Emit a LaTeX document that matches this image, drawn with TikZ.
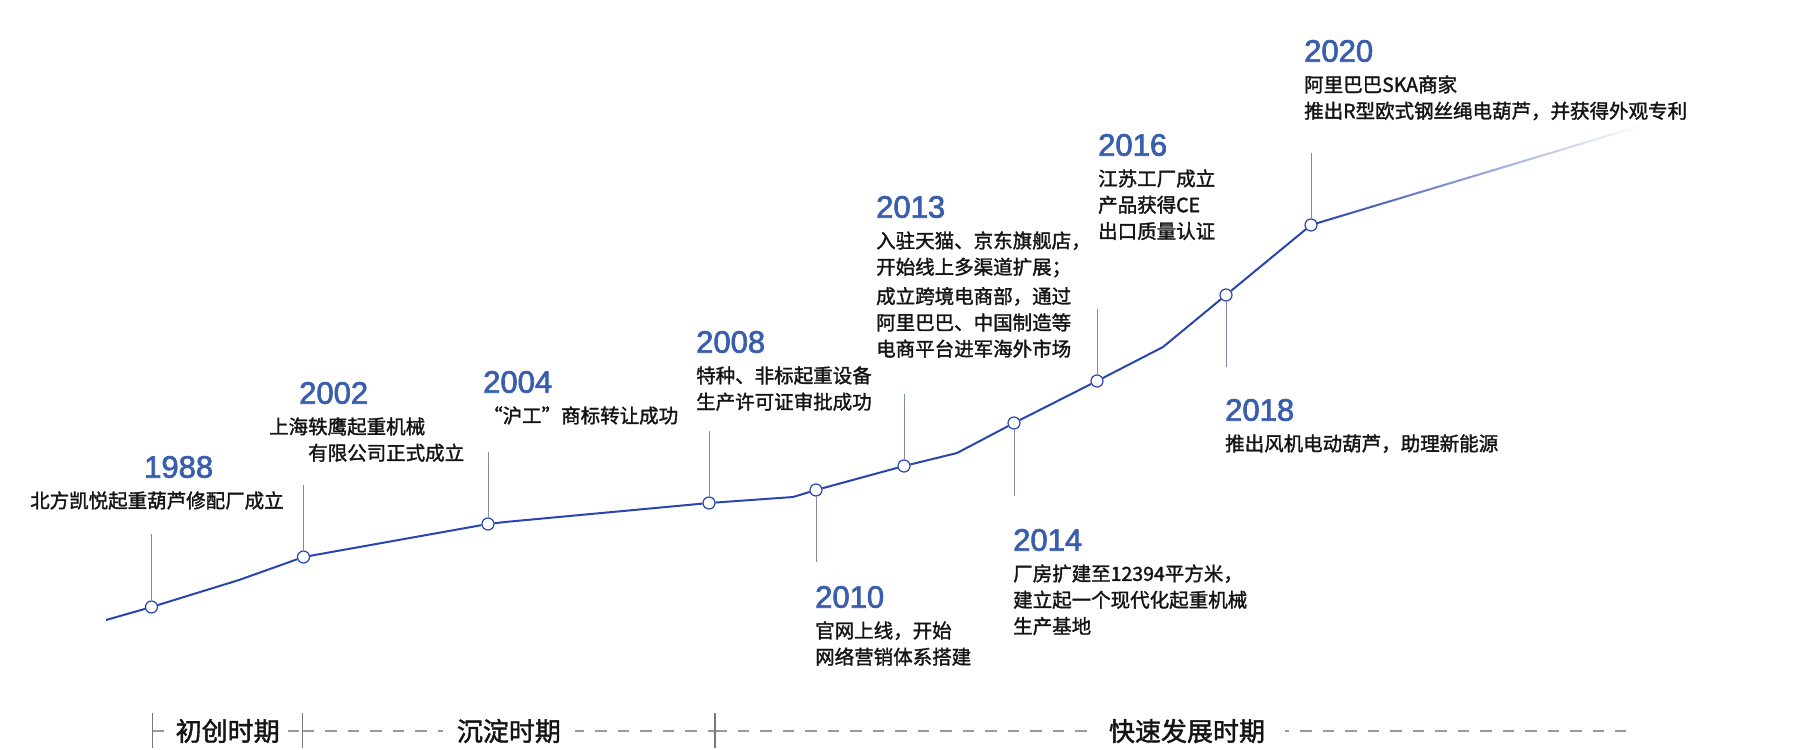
\documentclass[tikz,border=0pt]{standalone}
\usepackage{fontspec}
\setmainfont{Liberation Sans}
\newfontfamily\cjk{Noto Sans CJK SC}[FakeBold=1.6]
\newfontfamily\yearfont{Liberation Sans}[FakeBold=2.2]
\usepackage{xcolor}
\usepackage{tikz}
\usetikzlibrary{calc}
\usetikzlibrary{positioning}

\definecolor{lineblue}{HTML}{2A46AE}
\definecolor{yearblue}{HTML}{3A5EAE}
\definecolor{stemgray}{HTML}{7F8CA3}
\definecolor{textdark}{HTML}{141414}
\definecolor{dashgray}{HTML}{9A9A9A}
\definecolor{tickgray}{HTML}{777777}

\begin{document}
\begin{tikzpicture}[x=1pt,y=-1pt,
                    trendline/.style={draw=lineblue,line width=2pt,line join=round},
                    eventdot/.style={circle,draw=lineblue,fill=white,line width=1.2pt,
                                     minimum size=12pt,inner sep=0pt},
                    stem/.style={draw=stemgray,line width=0.9pt},
                    yearlabel/.style={anchor=west,inner sep=0pt,text=yearblue,
                                      font=\yearfont\fontsize{31}{31}\selectfont},
                    eventtext/.style={below=13pt of #1,anchor=north west,inner sep=0pt,
                                      align=left,text=textdark,
                                      font=\cjk\fontsize{19.5}{26.3}\selectfont},
                    periodlabel/.style={fill=white,inner xsep=14pt,inner ysep=3pt,text=textdark,
                                        font=\cjk\fontsize{26}{26}\selectfont},
                    periodtick/.style={draw=tickgray,line width=1.5pt},
                    perioddash/.style={draw=dashgray,line width=1.8pt,dash pattern=on 11.5pt off 11pt}]
    \path[fill=white,use as bounding box] (0,0) rectangle (1800,750);

    % points of the curve
    \coordinate (start) at (106,620);
    \node[eventdot] (d1988) at (151.5,607) {};
    \coordinate (k1) at (239,580);
    \node[eventdot] (d2002) at (303.5,557) {};
    \node[eventdot] (d2004) at (488,524) {};
    \coordinate (k2) at (505,522);
    \node[eventdot] (d2008) at (709,503) {};
    \coordinate (k3) at (793,497);
    \node[eventdot] (d2010) at (816,490) {};
    \node[eventdot] (d2013) at (904,466) {};
    \coordinate (k4) at (957,453);
    \node[eventdot] (d2014) at (1014,423) {};
    \node[eventdot] (d2016) at (1097,381) {};
    \coordinate (k5) at (1163,347);
    \node[eventdot] (d2018) at (1226,295) {};
    \node[eventdot] (d2020) at (1311,225) {};
    \coordinate (fadeend) at (1637,127);
    \coordinate (f0) at ($(d2020)!6pt!(fadeend)$);

    \draw[trendline] (start) -- (d1988) -- (k1) -- (d2002) -- (d2004) -- (k2) -- (d2008)
                     -- (k3) -- (d2010) -- (d2013) -- (k4) -- (d2014) -- (d2016) -- (k5)
                     -- (d2018) -- (d2020);
    \foreach \i in {0,...,39}{
        \pgfmathsetmacro{\p}{100-2.5*\i}
        \pgfmathsetmacro{\ta}{\i/40}
        \pgfmathsetmacro{\tb}{(\i+1)/40}
        \draw[line width=2pt,line cap=round,lineblue!\p!white]
            ($(f0)!\ta!(fadeend)$) -- ($(f0)!\tb!(fadeend)$);
    }

    % stems
    \coordinate (s1988) at (151.5,534);
    \coordinate (s2002) at (303.5,485);
    \coordinate (s2004) at (488,452);
    \coordinate (s2008) at (709,431);
    \coordinate (s2010) at (816,562);
    \coordinate (s2013) at (904,394);
    \coordinate (s2014) at (1014,496);
    \coordinate (s2016) at (1097,309);
    \coordinate (s2018) at (1226,367);
    \coordinate (s2020) at (1311,153);
    \foreach \y in {1988,2002,2004,2008,2010,2013,2014,2016,2018,2020}
        \draw[stem] (d\y) -- (s\y);

    % years and texts
    \node[yearlabel] (y1988) at (144,467) {1988};
    \node[eventtext=y1988.south west,xshift=-114pt] (t1988) {北方凯悦起重葫芦修配厂成立};
    \node[yearlabel] (y2002) at (299,393) {2002};
    \node[eventtext=y2002.south west,xshift=-30pt] (t2002) {上海轶鹰起重机械\\\hspace{2em}有限公司正式成立};
    \node[yearlabel] (y2004) at (483,382) {2004};
    \node[eventtext=y2004.south west] (t2004) {“沪工”商标转让成功};
    \node[yearlabel] (y2008) at (696,342) {2008};
    \node[eventtext=y2008.south west] (t2008) {特种、非标起重设备\\生产许可证审批成功};
    \node[yearlabel] (y2010) at (815,597) {2010};
    \node[eventtext=y2010.south west] (t2010) {官网上线，开始\\网络营销体系搭建};
    \node[yearlabel] (y2013) at (876,207) {2013};
    \node[eventtext=y2013.south west] (t2013) {入驻天猫、京东旗舰店，\\开始线上多渠道扩展；\\[3pt]
                                                成立跨境电商部，通过\\阿里巴巴、中国制造等\\电商平台进军海外市场};
    \node[yearlabel] (y2014) at (1013,540) {2014};
    \node[eventtext=y2014.south west] (t2014) {厂房扩建至12394平方米，\\建立起一个现代化起重机械\\生产基地};
    \node[yearlabel] (y2016) at (1098,145) {2016};
    \node[eventtext=y2016.south west] (t2016) {江苏工厂成立\\产品获得CE\\出口质量认证};
    \node[yearlabel] (y2018) at (1225,410) {2018};
    \node[eventtext=y2018.south west] (t2018) {推出风机电动葫芦，助理新能源};
    \node[yearlabel] (y2020) at (1304,51) {2020};
    \node[eventtext=y2020.south west] (t2020) {阿里巴巴SKA商家\\推出R型欧式钢丝绳电葫芦，并获得外观专利};

    % periods
    \coordinate (p1) at (152.7,731);
    \coordinate (p2) at (302.7,731);
    \coordinate (p3) at (715,731);
    \coordinate (pend) at (1626,731);
    \draw[perioddash] (p1) -- (p2);
    \draw[perioddash] (p2) -- (p3);
    \draw[perioddash] (p3) -- (pend);
    \foreach \q in {p1,p2,p3}
        \draw[periodtick] ([yshift=18pt]\q) -- ([yshift=-17pt]\q);
    \node[periodlabel,inner xsep=8pt] (c1) at ($(p1)!0.5!(p2)$) {初创时期};
    \node[periodlabel] (c2) at ($(p2)!0.5!(p3)$) {沉淀时期};
    \node[periodlabel,inner xsep=20pt] (c3) at (1187,731) {快速发展时期};
\end{tikzpicture}
\end{document}
